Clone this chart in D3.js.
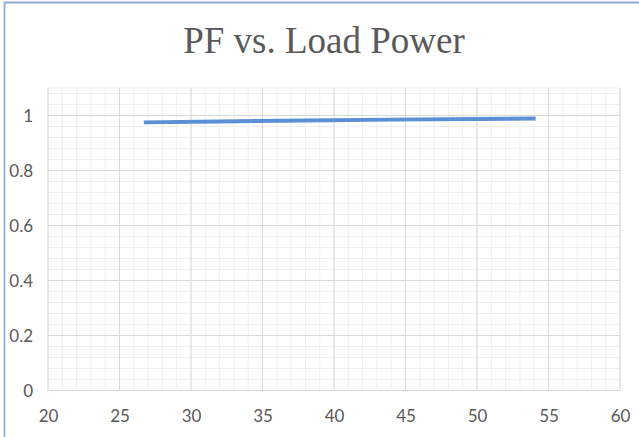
<!DOCTYPE html>
<html><head><meta charset="utf-8">
<script src="https://cdn.jsdelivr.net/npm/d3@7"></script>
<style>body{margin:0;background:#fff}svg{display:block}</style>
</head><body>
<script>
const title = "PF vs. Load Power";
const loadPower = [26.7, 32, 38, 44, 50, 54.1];
const pf = [0.975, 0.978, 0.982, 0.985, 0.987, 0.989];
const xTicks = [20, 25, 30, 35, 40, 45, 50, 55, 60];
const yTicks = [0, 0.2, 0.4, 0.6, 0.8, 1];

const W = 639, H = 437;
const svg = d3.select("body").append("svg").attr("width", W).attr("height", H);
const x = d3.scaleLinear().domain([20, 60]).range([48, 620]);
const y = d3.scaleLinear().domain([0, 1.1]).range([390.5, 88]);

// border
svg.append("path").attr("d", `M4.5,${H} L4.5,2.5 L${W},2.5`).attr("fill", "none")
  .attr("stroke", "#8FAADC").attr("stroke-width", 1.8);

// minor grid
const g = svg.append("g");
g.selectAll(".mx").data(d3.range(20, 61, 1)).join("line")
  .attr("x1", d => x(d)).attr("x2", d => x(d)).attr("y1", y(0)).attr("y2", y(1.1))
  .attr("stroke", "#efefef").attr("stroke-width", 1);
g.selectAll(".my").data(d3.range(0, 1.1001, 0.04).filter(v => v <= 1.1)).join("line")
  .attr("x1", x(20)).attr("x2", x(60)).attr("y1", d => y(d)).attr("y2", d => y(d))
  .attr("stroke", "#efefef").attr("stroke-width", 1);
// top edge
g.append("line").attr("x1", x(20)).attr("x2", x(60)).attr("y1", y(1.1)).attr("y2", y(1.1))
  .attr("stroke", "#efefef");
// major grid
g.selectAll(".Mx").data(xTicks).join("line")
  .attr("x1", d => x(d)).attr("x2", d => x(d)).attr("y1", y(0)).attr("y2", y(1.1))
  .attr("stroke", "#d9d9d9").attr("stroke-width", 1);
g.selectAll(".My").data(yTicks).join("line")
  .attr("x1", x(20)).attr("x2", x(60)).attr("y1", d => y(d)).attr("y2", d => y(d))
  .attr("stroke", "#d9d9d9").attr("stroke-width", 1);

// axes labels
const xAxis = d3.axisBottom(x).tickValues(xTicks).tickSize(0).tickPadding(0);
const xa = svg.append("g").attr("transform", `translate(0,${y(0)})`).call(xAxis);
xa.select(".domain").remove();
xa.selectAll("text").attr("dy", null).attr("y", 31).attr("fill", "#595959")
  .style("font-family", "Lato, 'Open Sans', sans-serif").style("font-size", "17px");

const yAxis = d3.axisLeft(y).tickValues(yTicks).tickSize(0).tickPadding(0).tickFormat(d3.format("~g"));
const ya = svg.append("g").attr("transform", `translate(33,0)`).call(yAxis);
ya.select(".domain").remove();
ya.selectAll("text").attr("dy", "0.35em").attr("fill", "#595959")
  .style("font-family", "Lato, 'Open Sans', sans-serif").style("font-size", "17px");

// line
const data = loadPower.map((v, i) => [v, pf[i]]);
svg.append("path").datum(data)
  .attr("d", d3.line().x(d => x(d[0])).y(d => y(d[1])))
  .attr("fill", "none").attr("stroke", "#5B8FD6").attr("stroke-width", 4).attr("stroke-linecap", "butt");

// title
svg.append("text").attr("x", 324).attr("y", 53).attr("text-anchor", "middle")
  .attr("fill", "#595959").style("font-family", "'Liberation Serif', 'DejaVu Serif', serif")
  .style("font-size", "37px").text(title);
</script>
</body></html>
